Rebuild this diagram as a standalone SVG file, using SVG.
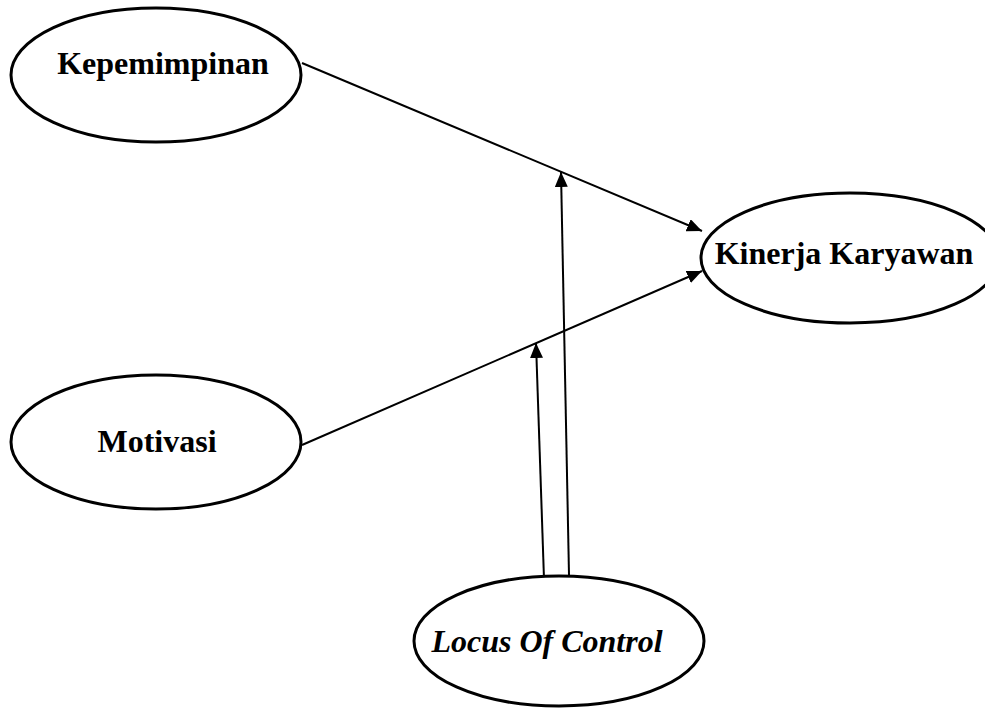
<svg xmlns="http://www.w3.org/2000/svg" width="985" height="708" viewBox="0 0 985 708">
<style>
.node ellipse{fill:#fff;stroke:#000;stroke-width:3}
.lbl{font-family:"Liberation Serif","Times New Roman",serif;font-size:32px;font-weight:bold;fill:#000;text-anchor:middle}
.it{font-style:italic}
.conn line{stroke:#000;stroke-width:2;fill:none}
</style>
<defs>
<marker id="arr" markerUnits="userSpaceOnUse" markerWidth="16" markerHeight="14" refX="15" refY="6.5" orient="auto">
<path d="M0,0 L15,6.5 L0,13 z" fill="#000"/>
</marker>
</defs>
<rect width="985" height="708" fill="#fff"/>
<g id="connectors" class="conn">
<line x1="302" y1="63" x2="702" y2="231" marker-end="url(#arr)"/>
<line x1="302" y1="445" x2="702" y2="271" marker-end="url(#arr)"/>
<line x1="569" y1="575" x2="561" y2="172" marker-end="url(#arr)"/>
<line x1="544" y1="579" x2="536" y2="343" marker-end="url(#arr)"/>
</g>
<g id="kepemimpinan" class="node">
<ellipse cx="156" cy="75" rx="145" ry="67"/>
<text class="lbl" x="163" y="74">Kepemimpinan</text>
</g>
<g id="motivasi" class="node">
<ellipse cx="156" cy="442" rx="145" ry="67"/>
<text class="lbl" x="157" y="452">Motivasi</text>
</g>
<g id="kinerja" class="node">
<ellipse cx="850" cy="258" rx="149" ry="65"/>
<text class="lbl" x="844" y="264">Kinerja Karyawan</text>
</g>
<g id="locus" class="node">
<ellipse cx="559" cy="641" rx="145" ry="65"/>
<text class="lbl it" x="547" y="652">Locus Of Control</text>
</g>
</svg>
